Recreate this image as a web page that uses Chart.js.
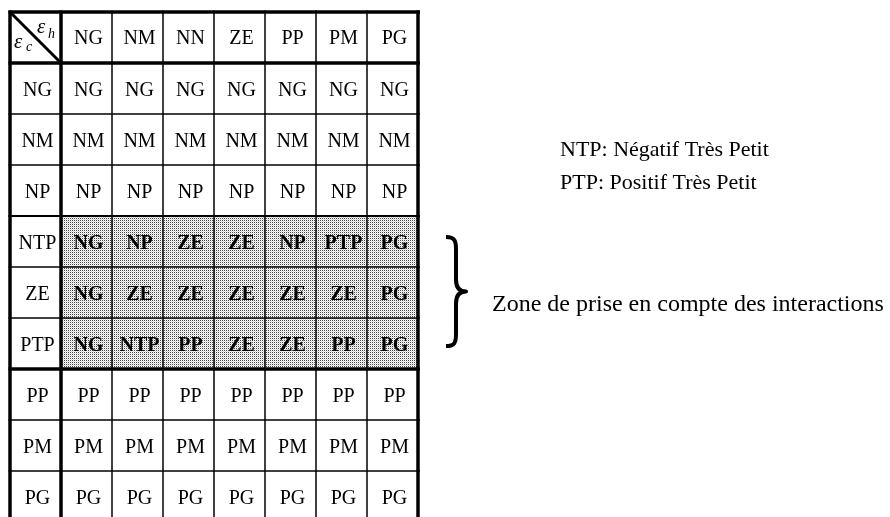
<!DOCTYPE html>
<html>
<head>
<meta charset="utf-8">
<script src="https://cdn.jsdelivr.net/npm/chart.js@4.4.1/dist/chart.umd.min.js"></script>
<style>
html,body{margin:0;padding:0;background:#fff;}
canvas{display:block;}
</style>
</head>
<body>
<canvas id="c" width="890" height="517"></canvas>
<script>
// ---- data ----
const colLabels = ['NG','NM','NN','ZE','PP','PM','PG'];          // ε_h
const rowLabels = ['NG','NM','NP','NTP','ZE','PTP','PP','PM','PG']; // ε_c
const ruleNG  = ['NG','NG','NG','NG','NG','NG','NG'];
const ruleNM  = ['NM','NM','NM','NM','NM','NM','NM'];
const ruleNP  = ['NP','NP','NP','NP','NP','NP','NP'];
const ruleNTP = ['NG','NP','ZE','ZE','NP','PTP','PG'];
const ruleZE  = ['NG','ZE','ZE','ZE','ZE','ZE','PG'];
const rulePTP = ['NG','NTP','PP','ZE','ZE','PP','PG'];
const rulePP  = ['PP','PP','PP','PP','PP','PP','PP'];
const rulePM  = ['PM','PM','PM','PM','PM','PM','PM'];
const rulePG  = ['PG','PG','PG','PG','PG','PG','PG'];
const rules = [ruleNG, ruleNM, ruleNP, ruleNTP, ruleZE, rulePTP, rulePP, rulePM, rulePG];
const shadedRows = ['NTP','ZE','PTP'];
const notes = ['NTP: Négatif Très Petit', 'PTP: Positif Très Petit'];
const zoneLabel = 'Zone de prise en compte des interactions';
const cornerTop = ['ε','h'];
const cornerBottom = ['ε','c'];

// build cell points (table columns offset by 1 for the header column, rows by 1 for header row)
const cellPoints = [];
rules.forEach((row, r) => row.forEach((v, c) => cellPoints.push({x: c + 1.5, y: r + 1.5, label: v, row: rowLabels[r]})));

const SERIF = '"Liberation Serif","DejaVu Serif",serif';

// dither pattern
function makePattern(ctx){
  const p = document.createElement('canvas');
  p.width = 2; p.height = 2;
  const pc = p.getContext('2d');
  pc.fillStyle = '#ffffff'; pc.fillRect(0,0,2,2);
  pc.fillStyle = '#444444'; pc.fillRect(0,0,1,1);
  pc.fillStyle = '#d8d8d8'; pc.fillRect(1,1,1,1);
  return ctx.createPattern(p, 'repeat');
}

const tablePlugin = {
  id: 'ruleTable',
  afterDraw(chart){
    const ctx = chart.ctx;
    const xs = chart.scales.x, ys = chart.scales.y;
    const X = v => xs.getPixelForValue(v);
    const Y = v => ys.getPixelForValue(v);
    const nCols = colLabels.length + 1, nRows = rowLabels.length + 1;
    ctx.save();
    // shading
    const firstShade = rowLabels.indexOf(shadedRows[0]) + 1;
    const lastShade = rowLabels.indexOf(shadedRows[shadedRows.length-1]) + 2;
    ctx.fillStyle = makePattern(ctx);
    ctx.fillRect(X(1), Y(firstShade), X(nCols) - X(1), Y(lastShade) - Y(firstShade));

    ctx.strokeStyle = '#000';
    ctx.lineCap = 'butt';
    // horizontal lines
    for (let i = 0; i <= nRows; i++){
      const thick = (i === 0 || i === 1 || i === lastShade);
      const med = (i === firstShade);
      ctx.lineWidth = thick ? 3.5 : (med ? 2 : 1.5);
      ctx.beginPath();
      ctx.moveTo(X(0) - 1.5, Y(i)); ctx.lineTo(X(nCols) + 2, Y(i)); ctx.stroke();
    }
    // vertical lines
    for (let j = 0; j <= nCols; j++){
      const thick = (j === 0 || j === 1 || j === nCols);
      ctx.lineWidth = thick ? 3.5 : 1.5;
      ctx.beginPath();
      ctx.moveTo(X(j), Y(0) - 1.5); ctx.lineTo(X(j), Y(nRows) + 2); ctx.stroke();
    }
    // corner diagonal
    ctx.lineWidth = 3;
    ctx.beginPath(); ctx.moveTo(X(0), Y(0)); ctx.lineTo(X(1), Y(1)); ctx.stroke();
    ctx.fillStyle = '#000';
    ctx.textBaseline = 'alphabetic';
    ctx.textAlign = 'left';
    ctx.font = 'italic 21px ' + SERIF;
    ctx.fillText(cornerTop[0], X(0) + 27, Y(0) + 21);
    ctx.fillText(cornerBottom[0], X(0) + 4, Y(0) + 36);
    ctx.font = 'italic 14px ' + SERIF;
    ctx.fillText(cornerTop[1], X(0) + 38, Y(0) + 26);
    ctx.fillText(cornerBottom[1], X(0) + 16, Y(0) + 39);

    // header labels
    ctx.textAlign = 'center';
    ctx.textBaseline = 'middle';
    ctx.font = '20px ' + SERIF;
    colLabels.forEach((l, c) => ctx.fillText(l, X(c + 1.5) + 2, Y(0.5) + 1));
    rowLabels.forEach((l, r) => ctx.fillText(l, X(0.5) + 2, Y(r + 1.5) + 2));
    // cells
    cellPoints.forEach(p => {
      const shaded = shadedRows.includes(p.row);
      ctx.font = (shaded ? 'bold ' : '') + '20px ' + SERIF;
      ctx.fillText(p.label, X(p.x) + 2, Y(p.y) + 2);
    });

    // notes
    ctx.textAlign = 'left';
    ctx.textBaseline = 'alphabetic';
    ctx.font = '22px ' + SERIF;
    notes.forEach((t, i) => ctx.fillText(t, 560, 156 + i * 33));

    // brace spanning the shaded rows
    const bTop = Y(firstShade) + 21, bBot = Y(lastShade) - 23, bMid = (bTop + bBot) / 2;
    const bx = 446, bw = 20;
    ctx.beginPath();
    ctx.moveTo(bx, bTop);
    ctx.bezierCurveTo(bx + 9, bTop, bx + 10, bTop + 4, bx + 10, bTop + 12);
    ctx.lineTo(bx + 10, bMid - 12);
    ctx.bezierCurveTo(bx + 10, bMid - 3, bx + 14, bMid, bx + bw, bMid);
    ctx.bezierCurveTo(bx + 14, bMid, bx + 10, bMid + 3, bx + 10, bMid + 12);
    ctx.lineTo(bx + 10, bBot - 12);
    ctx.bezierCurveTo(bx + 10, bBot - 4, bx + 9, bBot, bx, bBot);
    ctx.lineWidth = 4;
    ctx.lineJoin = 'round';
    ctx.stroke();

    ctx.font = '24px ' + SERIF;
    ctx.fillText(zoneLabel, 492, 311);
    ctx.restore();
  }
};

new Chart(document.getElementById('c'), {
  type: 'scatter',
  data: { datasets: [{ data: cellPoints, pointRadius: 0, pointHoverRadius: 0 }] },
  options: {
    responsive: false,
    animation: false,
    layout: { padding: { left: 10, top: 12, right: 472, bottom: 0 } },
    plugins: { legend: { display: false }, tooltip: { enabled: false } },
    scales: {
      x: { type: 'linear', min: 0, max: 8, display: false },
      y: { type: 'linear', min: 0, max: 9.9, reverse: true, display: false }
    }
  },
  plugins: [tablePlugin]
});
</script>
</body>
</html>
